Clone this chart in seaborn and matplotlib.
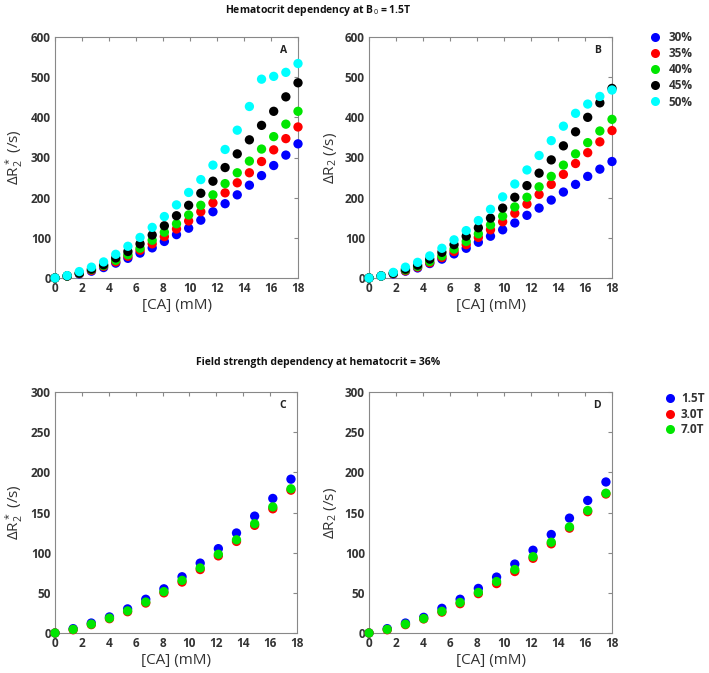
import numpy as np
import pandas as pd
import matplotlib
matplotlib.use("Agg")
import matplotlib.pyplot as plt
import seaborn as sns
from matplotlib.lines import Line2D

# concentrations [CA] (mM)
ca_top = [0, 0.9, 1.8, 2.7, 3.6, 4.5, 5.4, 6.3, 7.2, 8.1, 9.0, 9.9, 10.8,
          11.7, 12.6, 13.5, 14.4, 15.3, 16.2, 17.1, 18.0]
ca_bottom = [0, 1.35, 2.7, 4.05, 5.4, 6.75, 8.1, 9.45, 10.8, 12.15, 13.5,
             14.85, 16.2, 17.55]

hct_labels = ["30%", "35%", "40%", "45%", "50%"]
field_labels = ["1.5T", "3.0T", "7.0T"]

# panel A: dR2* vs hematocrit at 1.5T
a_30 = [0, 5, 10, 17, 26, 37, 49, 62, 75, 91, 108, 124, 144, 165, 185, 207, 231, 255, 280, 306, 334]
a_35 = [0, 5, 11, 19, 29, 40, 54, 69, 85, 103, 122, 142, 165, 187, 212, 237, 262, 290, 319, 347, 376]
a_40 = [0, 5, 12, 21, 31, 44, 58, 74, 94, 114, 135, 157, 181, 207, 235, 262, 291, 321, 352, 383, 415]
a_45 = [0, 5, 12, 22, 33, 50, 66, 85, 107, 130, 155, 181, 211, 241, 275, 309, 344, 380, 415, 451, 486]
a_50 = [0, 6, 16, 27, 40, 59, 79, 101, 126, 153, 182, 213, 245, 281, 320, 368, 427, 495, 502, 512, 534]

# panel B: dR2 vs hematocrit at 1.5T
b_30 = [0, 5, 10, 17, 25, 36, 47, 60, 74, 89, 104, 120, 137, 156, 174, 194, 214, 233, 253, 271, 290]
b_35 = [0, 5, 11, 18, 27, 38, 51, 66, 83, 101, 120, 140, 161, 184, 208, 233, 258, 285, 312, 339, 367]
b_40 = [0, 5, 12, 20, 29, 41, 55, 72, 91, 110, 132, 154, 177, 201, 227, 253, 281, 309, 337, 366, 395]
b_45 = [0, 5, 12, 22, 32, 47, 64, 83, 104, 125, 149, 174, 201, 230, 261, 294, 329, 364, 400, 436, 472]
b_50 = [0, 5, 14, 27, 39, 55, 74, 95, 118, 143, 171, 202, 234, 269, 305, 342, 378, 410, 433, 452, 468]

# panel C: dR2* vs field strength at hct 36%
c_15 = [0, 5.4, 12.4, 20, 30, 42, 55, 70, 87, 105, 124.5, 145.5, 167.5, 191.5]
c_30 = [0, 4, 10.4, 17.8, 26.5, 37.3, 50, 63.4, 79, 96, 114, 134, 154.6, 177.8]
c_70 = [0, 4.5, 11, 18.5, 27.5, 38.5, 51.5, 65.5, 81, 98, 116, 136, 157, 179.5]

# panel D: dR2 vs field strength at hct 36%
d_15 = [0, 5.4, 12.4, 19.5, 30.7, 42, 55.5, 69.6, 85.8, 103, 122.6, 143, 165, 188]
d_30 = [0, 4, 10.4, 17.5, 26, 36.5, 49, 61.5, 76.5, 93, 111, 130.5, 151, 173]
d_70 = [0, 4.5, 11, 18, 27, 38, 50.5, 64, 79, 95, 113, 132, 152.5, 174]

hct_colors = ["#0000ff", "#ff0000", "#00e600", "#000000", "#00ffff"]
field_colors = ["#0000ff", "#ff0000", "#00e600"]


def long_frame(x, series, labels):
    rows = []
    for lab, ys in zip(labels, series):
        for xi, yi in zip(x, ys):
            rows.append({"CA": xi, "R": yi, "group": lab})
    return pd.DataFrame(rows)


df_a = long_frame(ca_top, [a_30, a_35, a_40, a_45, a_50], hct_labels)
df_b = long_frame(ca_top, [b_30, b_35, b_40, b_45, b_50], hct_labels)
df_c = long_frame(ca_bottom, [c_15, c_30, c_70], field_labels)
df_d = long_frame(ca_bottom, [d_15, d_30, d_70], field_labels)

sns.set_style("white")
plt.rcParams["font.family"] = ["Open Sans", "DejaVu Sans"]
plt.rcParams["mathtext.fontset"] = "custom"
plt.rcParams["mathtext.rm"] = "Open Sans"
plt.rcParams["mathtext.it"] = "Open Sans"

fig = plt.figure(figsize=(7.09, 6.73), dpi=100)
W, H = 709, 673


def add_axes(left, top, right, bottom):
    return fig.add_axes([left / W, 1 - bottom / H, (right - left) / W, (bottom - top) / H])


ax_a = add_axes(55, 37, 298, 278)
ax_b = add_axes(369, 37, 612, 278)
ax_c = add_axes(55, 392, 297, 633)
ax_d = add_axes(369, 392, 612, 633)

text_col = "#333333"
spine_col = "#888888"

panels = [
    (ax_a, df_a, hct_colors, hct_labels, "A", r"$\Delta$R$_2^*$ (/s)", 600, 100),
    (ax_b, df_b, hct_colors, hct_labels, "B", r"$\Delta$R$_2$ (/s)", 600, 100),
    (ax_c, df_c, field_colors, field_labels, "C", r"$\Delta$R$_2^*$ (/s)", 300, 50),
    (ax_d, df_d, field_colors, field_labels, "D", r"$\Delta$R$_2$ (/s)", 300, 50),
]

for ax, df, cols, labs, letter, ylab, ymax, ystep in panels:
    sns.scatterplot(data=df, x="CA", y="R", hue="group", hue_order=labs,
                    palette=cols, s=45, edgecolor="none", ax=ax, legend=False,
                    clip_on=False, zorder=3)
    ax.set_xlim(0, 18)
    ax.set_ylim(0, ymax)
    ax.set_xticks(np.arange(0, 19, 2))
    ax.set_yticks(np.arange(0, ymax + 1, ystep))
    ax.tick_params(direction="in", length=3, color=spine_col, top=True, right=True,
                   labelsize=8.5, labelcolor=text_col, pad=3)
    for lbl in ax.get_xticklabels() + ax.get_yticklabels():
        lbl.set_fontweight("bold")
    for sp in ax.spines.values():
        sp.set_color(spine_col)
        sp.set_linewidth(0.8)
    ax.set_xlabel("[CA] (mM)", fontsize=11, color=text_col, labelpad=2)
    ax.set_ylabel(ylab, fontsize=11, color=text_col, labelpad=4)
    ax.text(0.955, 0.965, letter, transform=ax.transAxes, ha="right", va="top",
            fontsize=7.5, fontweight="bold", color="#222222")

fig.text(318 / W, 1 - 10 / H, r"Hematocrit dependency at B$_0$ = 1.5T", ha="center",
         va="center", fontsize=7.5, fontweight="bold", color="#111111")
fig.text(318 / W, 1 - 363 / H, "Field strength dependency at hematocrit = 36%", ha="center",
         va="center", fontsize=7.5, fontweight="bold", color="#111111")


def legend_handles(cols):
    return [Line2D([], [], marker="o", ls="none", markersize=6.5, markerfacecolor=c,
                   markeredgecolor="none") for c in cols]


leg1 = fig.legend(legend_handles(hct_colors), hct_labels, loc="upper left",
                  bbox_to_anchor=(640 / W, 1 - 23 / H), frameon=False,
                  handletextpad=0.5, labelspacing=0.26, handlelength=1.2,
                  borderpad=0.2, prop={"weight": "bold", "size": 8.5})
leg2 = fig.legend(legend_handles(field_colors), field_labels, loc="upper left",
                  bbox_to_anchor=(655 / W, 1 - 384 / H), frameon=False,
                  handletextpad=0.3, labelspacing=0.22, handlelength=1.2,
                  borderpad=0.2, prop={"weight": "bold", "size": 8.5})
for leg in (leg1, leg2):
    for t in leg.get_texts():
        t.set_color(text_col)

fig.savefig("out.png", dpi=100)
